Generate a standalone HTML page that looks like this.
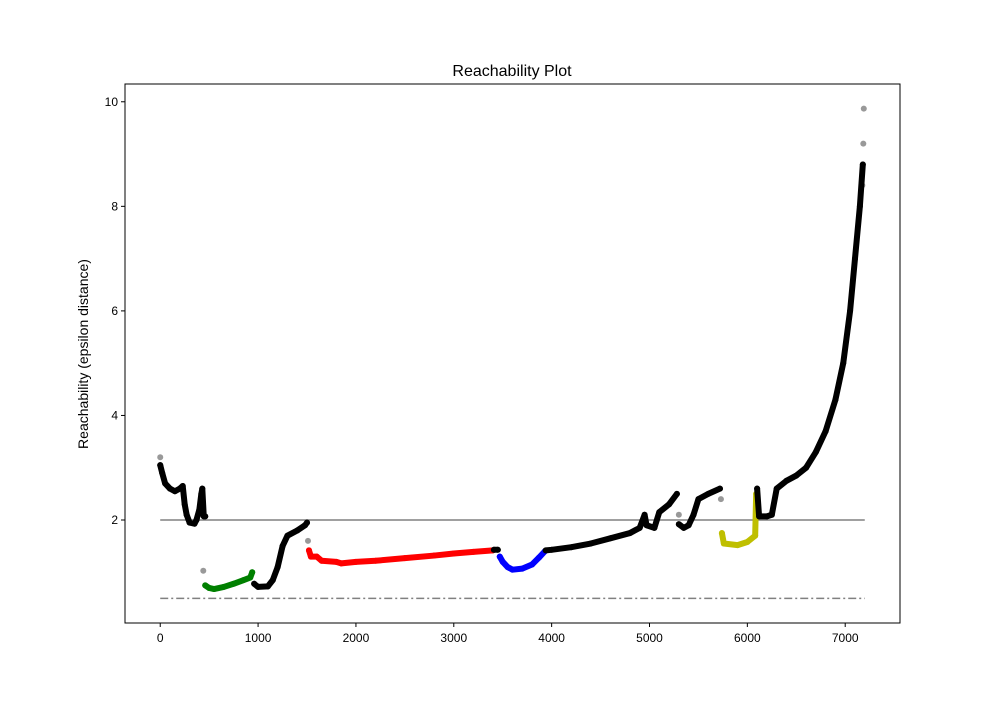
<!DOCTYPE html>
<html><head><meta charset="utf-8"><style>
body{margin:0;background:#fff;font-family:"Liberation Sans","DejaVu Sans",sans-serif;}
svg text{font-family:"Liberation Sans","DejaVu Sans",sans-serif;}
</style></head><body>
<svg id="chart" width="1000" height="700">
<rect width="1000" height="700" fill="#fff"/>
<text x="512" y="76" font-size="16" text-anchor="middle">Reachability Plot</text>
<g id="marks"></g>
<rect x="125" y="84" width="775" height="539" fill="none" stroke="#000" stroke-width="1"/>
<g id="axes"></g>
<text transform="translate(88,354) rotate(-90)" font-size="14" text-anchor="middle">Reachability (epsilon distance)</text>
</svg>
<script>
const xTicks=[0,1000,2000,3000,4000,5000,6000,7000];
const yTicks=[2,4,6,8,10];
const clusterColors=['k','g','k','r','k','b','k','y','k'];
const seg0X=[0,20,50,100,150,200,230,250,270,300,350,370,400,420,430,445,460];
const seg0Y=[3.05,2.9,2.7,2.6,2.55,2.6,2.65,2.3,2.1,1.95,1.93,2.0,2.2,2.5,2.6,2.07,2.07];
const seg1X=[460,500,550,650,750,850,920,940];
const seg1Y=[0.75,0.7,0.68,0.72,0.78,0.85,0.9,1.0];
const seg2X=[960,1000,1100,1150,1200,1250,1300,1400,1480,1500];
const seg2Y=[0.78,0.72,0.73,0.85,1.1,1.5,1.7,1.8,1.9,1.95];
const seg3X=[1520,1540,1600,1650,1800,1850,2000,2200,2500,2800,3000,3200,3400];
const seg3Y=[1.42,1.3,1.3,1.22,1.2,1.17,1.2,1.22,1.27,1.32,1.36,1.39,1.42];
const seg4X=[3410,3450];
const seg4Y=[1.43,1.43];
const seg5X=[3470,3500,3550,3600,3700,3800,3870,3930];
const seg5Y=[1.3,1.2,1.1,1.05,1.07,1.15,1.28,1.4];
const seg6X=[3940,4000,4200,4400,4600,4800,4900,4950,4970,5050,5100,5200,5280];
const seg6Y=[1.42,1.43,1.48,1.55,1.65,1.75,1.85,2.1,1.9,1.85,2.15,2.3,2.5];
const seg6bX=[5300,5350,5400,5450,5500,5600,5720];
const seg6bY=[1.92,1.85,1.9,2.1,2.4,2.5,2.6];
const seg7X=[5740,5760,5900,6000,6080,6090];
const seg7Y=[1.75,1.55,1.52,1.58,1.7,2.5];
const seg8X=[6100,6120,6200,6250,6300,6400,6500,6600,6700,6800,6900,6980,7050,7100,7150,7180];
const seg8Y=[2.6,2.07,2.07,2.1,2.6,2.75,2.85,3.0,3.3,3.7,4.3,5.0,6.0,7.0,8.0,8.8];
const outlierX=[0,440,1510,5300,5730,7190,7185,7175];
const outlierY=[3.2,1.03,1.6,2.1,2.4,9.87,9.2,8.4];
const hLevels=[2,0.5];

const X0=-360,X1=7560,Y0=0.03,Y1=10.34;
const PL=125,PR=900,PT=84,PB=623;
const sx=v=>PL+(v-X0)/(X1-X0)*(PR-PL);
const sy=v=>PB-(v-Y0)/(Y1-Y0)*(PB-PT);
const NS='http://www.w3.org/2000/svg';
const marks=document.getElementById('marks'),axes=document.getElementById('axes');
const colMap={k:'#000',g:'#008000',r:'#ff0000',b:'#0000ff',y:'#bfbf00'};
function mk(t,a,p){const e=document.createElementNS(NS,t);for(const k in a)e.setAttribute(k,a[k]);p.appendChild(e);return e;}

hLevels.forEach((h,i)=>{
 const l=mk('line',{x1:sx(0),x2:sx(7200),y1:sy(h),y2:sy(h),stroke:'#808080','stroke-width':1.5},marks);
 if(i===1)l.setAttribute('stroke-dasharray','8 3 2 3');
 
 
});
const segs=[[seg0X,seg0Y,'k'],[seg1X,seg1Y,'g'],[seg2X,seg2Y,'k'],[seg3X,seg3Y,'r'],[seg4X,seg4Y,'k'],[seg5X,seg5Y,'b'],[seg6X,seg6Y,'k'],[seg6bX,seg6bY,'k'],[seg7X,seg7Y,'y'],[seg8X,seg8Y,'k']];
segs.forEach((s,i)=>{
 const c=colMap[s[2]];
 const pts=s[0].map((x,j)=>sx(x)+','+sy(s[1][j])).join(' ');
 const pl=mk('polyline',{points:pts,fill:'none',stroke:c,'stroke-width':6,'stroke-linecap':'round','stroke-linejoin':'round'},marks);
 
 
 s[0].forEach((x,j)=>{
  const p=mk('circle',{cx:sx(x),cy:sy(s[1][j]),r:3,fill:c},marks);
  
  
 });
});
outlierX.forEach((x,i)=>{
 const p=mk('circle',{cx:sx(x),cy:sy(outlierY[i]),r:3,fill:'#000','fill-opacity':0.4},marks);
 
 
});
xTicks.forEach(t=>{
 mk('line',{x1:sx(t),x2:sx(t),y1:PB,y2:PB+4,stroke:'#000'},axes);
 const tx=mk('text',{x:sx(t),y:PB+19,'font-size':12,'text-anchor':'middle'},axes);tx.textContent=t;
 
 
});
yTicks.forEach(t=>{
 mk('line',{x1:PL-4,x2:PL,y1:sy(t),y2:sy(t),stroke:'#000'},axes);
 const tx=mk('text',{x:PL-7,y:sy(t)+4,'font-size':12,'text-anchor':'end'},axes);tx.textContent=t;
 
 
});
</script>
</body></html>
